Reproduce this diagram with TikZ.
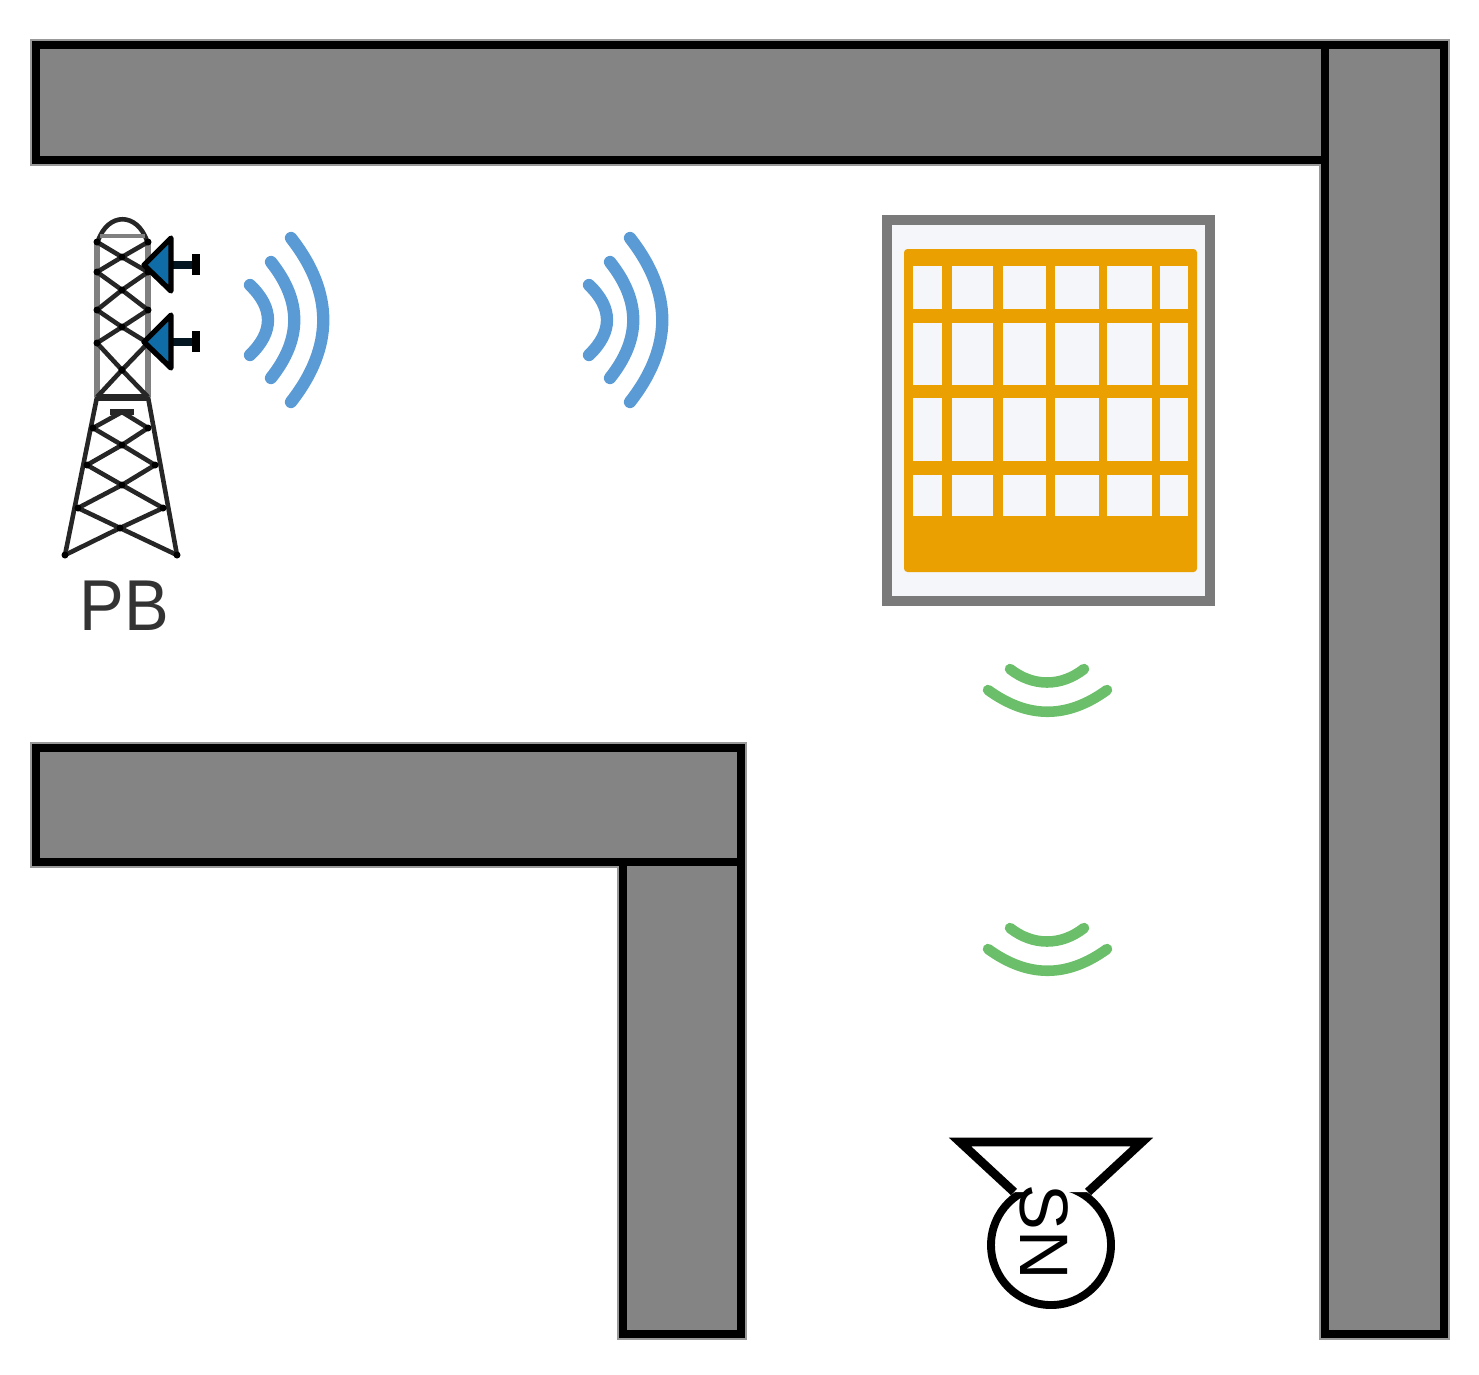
\documentclass[tikz,border=0pt]{standalone}
\usepackage{fontspec}
\setmainfont{Liberation Sans}
\usetikzlibrary{math}
\definecolor{wallgray}{HTML}{848484}
\definecolor{framegray}{HTML}{7A7A7A}
\definecolor{paneblue}{HTML}{F4F6F9}
\definecolor{blockorange}{HTML}{EAA000}
\definecolor{wavblue}{HTML}{5B9BD5}
\definecolor{wavgreen}{HTML}{6CBF6A}
\definecolor{dishblue}{HTML}{0F6CA6}
\tikzset{
  wallhalo/.style={draw=black!40, line width=6.5pt},
  wall/.style={draw=black, line width=4.4pt, fill=wallgray},
  blueband/.style={draw=wavblue, line width=7pt, line cap=round},
  greenband/.style={draw=wavgreen, line width=6pt, line cap=round},
  truss/.style={draw=black!85, line width=2.6pt},
  dish/.style={draw=black, line width=3pt, fill=dishblue, line join=round}
}

\begin{document}
\begin{tikzpicture}[x=0.02cm, y=-0.02cm]
      \useasboundingbox (0,0) rectangle (1479,1374);
      \tikzmath{\bx = 339; \gy = 259;}
      \foreach \wa/\wb/\wc/\wd in {36/45/1325/160,1325/45/1444/1334,623/862/741/1334,36/748/741/862} {
        \draw[wallhalo] (\wa,\wb) rectangle (\wc,\wd);
      }
      \foreach \wa/\wb/\wc/\wd in {36/45/1325/160,1325/45/1444/1334,623/862/741/1334,36/748/741/862} {
        \draw[wall] (\wa,\wb) rectangle (\wc,\wd);
      }
      % tower
      \draw[truss, draw=black!50, line width=3.5pt] (97,240) -- (97,397) (148,240) -- (148,397);
      \draw[truss] (98,241) .. controls (108,212) and (137,212) .. (147,241);
      \draw[truss, draw=black!50] (100,236) -- (145,236);
      \draw[truss] (97,242) -- (122,257) -- (148,272) (148,242) -- (122,257) -- (97,272);
      \draw[truss] (97,272) -- (122,290) -- (148,310) (148,272) -- (122,290) -- (97,310);
      \draw[truss] (97,310) -- (122,327) -- (148,343) (148,310) -- (122,327) -- (97,343);
      \draw[truss] (97,343) -- (122,370) -- (148,397) (148,343) -- (122,370) -- (97,397);
      \draw[truss, line width=4pt] (97,397) -- (148,397);
      \draw[truss, line width=3pt] (110,412) -- (134,412);
      \draw[truss] (97,397) -- (65,555) (148,397) -- (177,555);
      \draw[truss] (93,428) -- (122,412) -- (148,428);
      \draw[truss] (93,428) -- (122,445) -- (155,465) (148,428) -- (122,445) -- (87,465);
      \draw[truss] (87,465) -- (122,485) -- (163,508) (155,465) -- (122,485) -- (78,508);
      \draw[truss] (78,508) -- (120,528) -- (177,555) (163,508) -- (120,528) -- (65,555);
      \foreach \jx/\jy in {97/242,97/272,97/310,97/343,148/242,148/272,148/310,148/343,122/257,122/290,122/327,122/370,
        93/428,87/465,78/508,65/555,148/428,155/465,163/508,177/555,122/445,122/485,120/528} {
        \fill[black] (\jx,\jy) circle (3.5);
      }
      % dishes
      \foreach \dy in {0,77} {
        \draw[line width=4.5pt, draw=black!80!dishblue] (170,265+\dy) -- (195,265+\dy);
        \draw[line width=4pt] (196,254+\dy) -- (196,275+\dy);
        \draw[dish] (144,265+\dy) -- (171,238+\dy) -- (171,291+\dy) -- cycle;
      }
      % waves
      \foreach \sx in {0,\bx} {
        \draw[blueband] (250+\sx,285) .. controls (274+\sx,308) and (274+\sx,332) .. (250+\sx,355);
        \draw[blueband] (271+\sx,262) .. controls (302+\sx,301) and (302+\sx,339) .. (271+\sx,378);
        \draw[blueband] (291+\sx,238) .. controls (334+\sx,293) and (334+\sx,347) .. (291+\sx,402);
      }
      \foreach \sy in {0,\gy} {
        \draw[greenband] (1010,669+\sy) .. controls (1033,687+\sy) and (1061,687+\sy) .. (1084,669+\sy);
        \draw[greenband] (988,690+\sy) .. controls (1028,719+\sy) and (1067,719+\sy) .. (1107,690+\sy);
      }
      % building
      \draw[draw=framegray, line width=6pt, fill=paneblue] (887,220) rectangle (1210,601);
      \fill[blockorange, rounded corners=2pt] (904,249) rectangle (1197,572);
      \foreach \xa/\xb in {913/942,952/993,1003/1046,1055/1099,1107/1152,1160/1188} {
        \foreach \ya/\yb in {266/309,323/385,398/461,475/516} {
          \fill[paneblue] (\xa,\ya) rectangle (\xb,\yb);
        }
      }
      % sensor
      \draw[line width=4.5pt, fill=white] (1051,1245) circle (60);
      \draw[line width=5pt, fill=white, line join=miter] (1014,1192) -- (960,1142) -- (1142,1142) -- (1088,1192);
      \node[rotate=-90, font=\fontsize{39}{39}\selectfont, inner sep=0pt] (sn) at (1044,1232) {SN};
      \node[font=\fontsize{41}{41}\selectfont, text=black!80, inner sep=0pt, xscale=0.93] (pb) at (124,606) {PB};
    \end{tikzpicture}
\end{document}
